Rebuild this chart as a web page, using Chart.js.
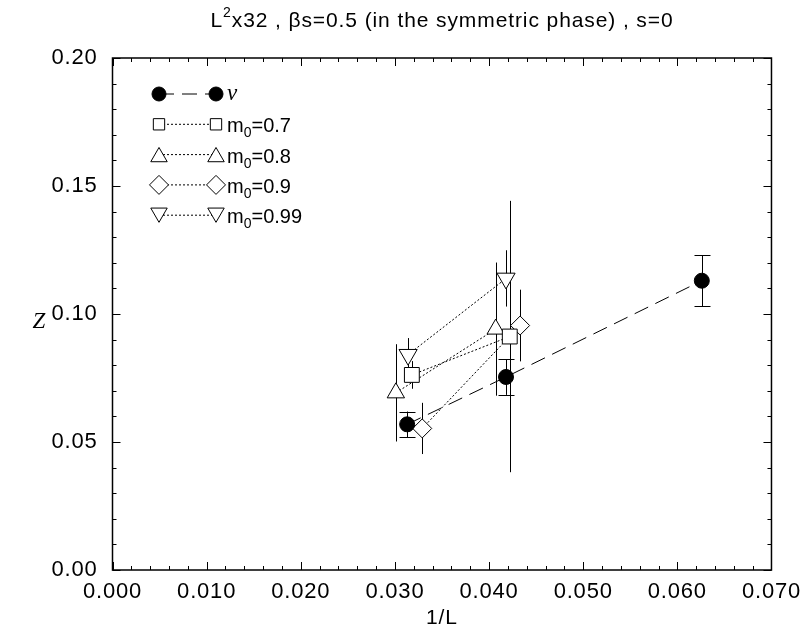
<!DOCTYPE html>
<html>
<head>
<meta charset="utf-8">
<script src="https://cdn.jsdelivr.net/npm/chart.js@4.4.1/dist/chart.umd.min.js"></script>
<style>
  html, body { margin: 0; padding: 0; background: #fff; }
  canvas { display: block; }
</style>
</head>
<body>
<canvas id="chart" width="808" height="635"></canvas>
<script>
// values (x = 1/L, y = Z, err = half error bar)
const nuX = [0.0313, 0.0418, 0.0626];
const nuY = [0.0569, 0.0754, 0.113];
const nuErr = [0.005, 0.007, 0.010];

const m07X = [0.0318, 0.0422];
const m07Y = [0.0762, 0.0912];
const m07Err = [0.0054, 0.053];

const m08X = [0.0301, 0.0407];
const m08Y = [0.0692, 0.0941];
const m08Err = [0.019, 0.026];

const m09X = [0.0329, 0.0433];
const m09Y = [0.0553, 0.0955];
const m09Err = [0.010, 0.014];

const m099X = [0.0314, 0.0418];
const m099Y = [0.0841, 0.1139];
const m099Err = [0.0065, 0.011];

const xMin = 0, xMax = 0.07, xStep = 0.01, xMinor = 0.002;
const yMin = 0, yMax = 0.2, yStep = 0.05, yMinor = 0.01;

const titleText = ['L', '2', 'x32 , \u03b2s=0.5 (in the symmetric phase) , s=0'];

const sans = '"Liberation Sans", Arial, Helvetica, sans-serif';
const serif = '"Liberation Serif", "Times New Roman", serif';

function pts(xs, ys) {
  return xs.map((x, i) => ({ x: x, y: ys[i] }));
}

function series(label, xs, ys, errs, style, radius, dash, fill, cap, rot) {
  return {
    label: label,
    data: pts(xs, ys),
    errors: errs,
    cap: cap,
    showLine: true,
    borderColor: '#000',
    borderWidth: 1,
    borderDash: dash,
    pointStyle: style,
    pointRadius: radius,
    pointHoverRadius: radius,
    pointBorderColor: '#000',
    pointBackgroundColor: fill,
    pointBorderWidth: 1,
    pointRotation: rot,
  };
}

const datasets = [
  series('\u03bd', nuX, nuY, nuErr, 'circle', 7.5, [15, 8], '#000', 8, 0),
  series('0.7', m07X, m07Y, m07Err, 'rect', 10.5, [2, 2], '#fff', 0, 0),
  series('0.8', m08X, m08Y, m08Err, 'triangle', 10, [2, 2], '#fff', 0, 0),
  series('0.9', m09X, m09Y, m09Err, 'rectRot', 9.5, [2, 2], '#fff', 0, 0),
  series('0.99', m099X, m099Y, m099Err, 'triangle', 10.5, [2, 2], '#fff', 0, 180),
];

function drawMarker(ctx, style, rot, r, x, y, fill) {
  ctx.beginPath();
  if (style === 'circle') {
    ctx.arc(x, y, r, 0, Math.PI * 2);
  } else if (style === 'rect') {
    const s = r * Math.SQRT1_2;
    ctx.rect(x - s, y - s, 2 * s, 2 * s);
  } else if (style === 'rectRot') {
    ctx.moveTo(x - r, y); ctx.lineTo(x, y - r); ctx.lineTo(x + r, y); ctx.lineTo(x, y + r);
    ctx.closePath();
  } else {
    // triangle, centred on its bounding box like the legend of the original
    const d = rot ? -1 : 1;
    const h = r * 1.5;
    ctx.moveTo(x, y - d * h / 2);
    ctx.lineTo(x + r * 0.866, y + d * h / 2);
    ctx.lineTo(x - r * 0.866, y + d * h / 2);
    ctx.closePath();
  }
  ctx.fillStyle = fill;
  ctx.fill();
  ctx.stroke();
}

const errorBars = {
  id: 'errorBars',
  beforeDatasetsDraw(chart) {
    const { ctx, scales: { x, y } } = chart;
    ctx.save();
    ctx.strokeStyle = '#000';
    ctx.lineWidth = 1;
    chart.data.datasets.forEach(ds => {
      ds.data.forEach((p, i) => {
        const px = Math.round(x.getPixelForValue(p.x)) + 0.5;
        const top = y.getPixelForValue(p.y + ds.errors[i]);
        const bot = y.getPixelForValue(p.y - ds.errors[i]);
        ctx.beginPath();
        ctx.moveTo(px, top); ctx.lineTo(px, bot);
        if (ds.cap) {
          ctx.moveTo(px - ds.cap, Math.round(top) + 0.5); ctx.lineTo(px + ds.cap, Math.round(top) + 0.5);
          ctx.moveTo(px - ds.cap, Math.round(bot) + 0.5); ctx.lineTo(px + ds.cap, Math.round(bot) + 0.5);
        }
        ctx.stroke();
      });
    });
    ctx.restore();
  }
};

const frame = {
  id: 'frame',
  beforeDraw(chart) {
    chart.ctx.letterSpacing = '0.8px';
  },
  afterDraw(chart) {
    const { ctx, chartArea: a, scales: { x, y } } = chart;
    ctx.save();
    ctx.strokeStyle = '#000';
    ctx.lineWidth = 1.5;
    ctx.strokeRect(a.left, a.top, a.right - a.left, a.bottom - a.top);
    ctx.lineWidth = 1;
    ctx.beginPath();
    const nx = Math.round((xMax - xMin) / xMinor);
    for (let i = 0; i <= nx; i++) {
      const px = Math.round(x.getPixelForValue(xMin + i * xMinor)) + 0.5;
      const len = i % 5 === 0 ? 8 : 4;
      ctx.moveTo(px, a.bottom); ctx.lineTo(px, a.bottom - len);
      ctx.moveTo(px, a.top); ctx.lineTo(px, a.top + len);
    }
    const ny = Math.round((yMax - yMin) / yMinor);
    for (let i = 0; i <= ny; i++) {
      const py = Math.round(y.getPixelForValue(yMin + i * yMinor)) + 0.5;
      const len = i % 5 === 0 ? 8 : 4;
      ctx.moveTo(a.left, py); ctx.lineTo(a.left + len, py);
      ctx.moveTo(a.right, py); ctx.lineTo(a.right - len, py);
    }
    ctx.stroke();

    // title with superscript
    ctx.fillStyle = '#000';
    ctx.textBaseline = 'alphabetic';
    ctx.letterSpacing = '0.9px';
    const big = '21px ' + sans, small = '14px ' + sans;
    ctx.font = big; const w0 = ctx.measureText(titleText[0]).width;
    const w2 = ctx.measureText(titleText[2]).width;
    ctx.font = small; const w1 = ctx.measureText(titleText[1]).width;
    let tx = (a.left + a.right) / 2 - (w0 + w1 + w2) / 2;
    ctx.textAlign = 'left';
    ctx.font = big; ctx.fillText(titleText[0], tx, 27); tx += w0;
    ctx.font = small; ctx.fillText(titleText[1], tx, 17); tx += w1;
    ctx.font = big; ctx.fillText(titleText[2], tx, 27);

    // axis titles
    ctx.textAlign = 'center';
    ctx.textBaseline = 'middle';
    ctx.font = '21px ' + sans;
    ctx.fillText('1/L', (a.left + a.right) / 2, 618);
    ctx.letterSpacing = '0px';
    ctx.font = 'italic 23px ' + serif;
    ctx.fillText('Z', 39, 322);

    // legend
    const rowY = 94, rowStep = 30.3, xL = 159, xR = 216, xT = 227;
    chart.data.datasets.forEach((ds, i) => {
      const ly = rowY + i * rowStep;
      ctx.save();
      ctx.lineWidth = 1;
      ctx.setLineDash(ds.borderDash);
      ctx.beginPath(); ctx.moveTo(xL, ly); ctx.lineTo(xR, ly); ctx.stroke();
      ctx.restore();
      const r = ds.pointStyle === 'rect' ? 8 : ds.pointStyle === 'circle' ? 7 : 9.5;
      drawMarker(ctx, ds.pointStyle, ds.pointRotation, r, xL, ly, ds.pointBackgroundColor);
      drawMarker(ctx, ds.pointStyle, ds.pointRotation, r, xR, ly, ds.pointBackgroundColor);
      ctx.fillStyle = '#000';
      ctx.textAlign = 'left';
      ctx.textBaseline = 'alphabetic';
      if (i === 0) {
        ctx.letterSpacing = '0px';
        ctx.font = 'italic 23px ' + serif;
        ctx.fillText(ds.label, xT, ly + 6);
      } else {
        ctx.letterSpacing = '0px';
        ctx.font = '20px ' + sans;
        ctx.fillText('m', xT, ly + 8);
        let lx = xT + ctx.measureText('m').width;
        ctx.font = '14px ' + sans;
        ctx.fillText('0', lx, ly + 13);
        lx += ctx.measureText('0').width;
        ctx.font = '20px ' + sans;
        ctx.fillText('=' + ds.label, lx, ly + 8);
      }
    });
    ctx.restore();
  }
};

new Chart(document.getElementById('chart'), {
  type: 'scatter',
  data: { datasets: datasets },
  options: {
    responsive: false,
    animation: false,
    events: [],
    layout: { padding: { top: 58, right: 35, left: 0, bottom: 0 } },
    plugins: { legend: { display: false }, tooltip: { enabled: false }, title: { display: false } },
    scales: {
      x: {
        type: 'linear', min: xMin, max: xMax,
        grid: { display: false, drawTicks: false },
        border: { display: false },
        ticks: {
          stepSize: xStep, color: '#000', padding: 9, maxRotation: 0,
          font: { family: sans, size: 22 },
          callback: v => v.toFixed(3)
        },
        afterFit: s => { s.height = 65; }
      },
      y: {
        type: 'linear', min: yMin, max: yMax,
        grid: { display: false, drawTicks: false },
        border: { display: false },
        ticks: {
          stepSize: yStep, color: '#000', padding: 15,
          font: { family: sans, size: 22 },
          callback: v => v.toFixed(2)
        },
        afterFit: s => { s.width = 112.5; }
      }
    }
  },
  plugins: [errorBars, frame]
});
</script>
</body>
</html>
